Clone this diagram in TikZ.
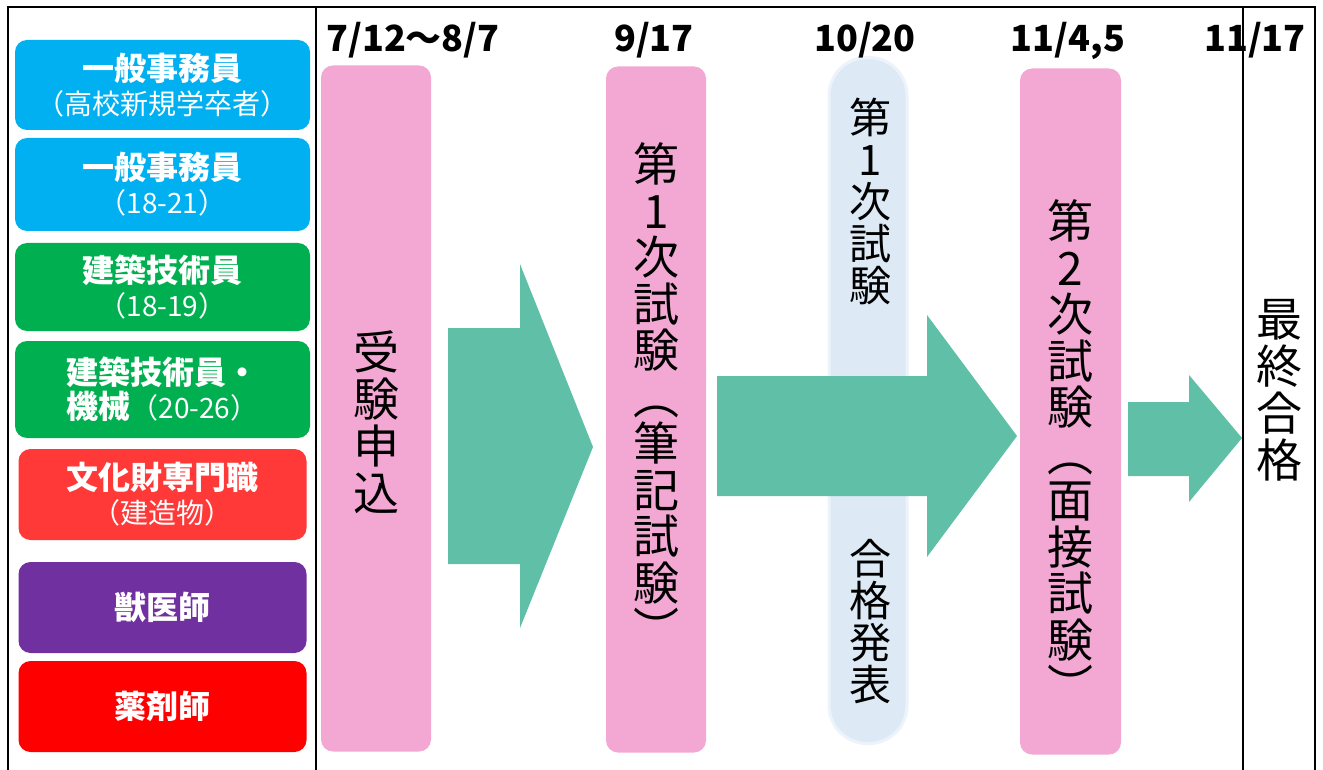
\documentclass[tikz,border=0pt]{standalone}
\usepackage{fontspec}
\setmainfont{Noto Sans CJK JP}
\usetikzlibrary{positioning}
\definecolor{jobblue}{HTML}{00B0F0}
\definecolor{jobgreen}{HTML}{00B050}
\definecolor{jobcoral}{HTML}{FF3838}
\definecolor{jobpurple}{HTML}{7030A0}
\definecolor{jobred}{HTML}{FF0000}
\definecolor{stagepink}{HTML}{F3A8D3}
\definecolor{noticeblue}{HTML}{DDEAF6}
\definecolor{flowgreen}{HTML}{60BFA7}

\tikzset{every picture/.style={line width=2.5pt}}

\begin{document}
\begin{tikzpicture}[x=1pt,y=-1pt,
		jobbox/.style={shape=rectangle, rounded corners=12pt, inner sep=0pt, outer sep=0pt,
			minimum width=295pt, align=center, text=white,
			font=\fontsize{28}{34}\selectfont},
		stagebox/.style={shape=rectangle, rounded corners=12pt, inner sep=0pt,
			fill=stagepink, minimum height=686pt},
		noticebox/.style={shape=rectangle, rounded corners=38pt, inner sep=0pt,
			fill=noticeblue, draw=noticeblue!55, line width=3pt},
		vtext/.style={align=center, inner sep=0pt},
		datelabel/.style={anchor=base, font=\bfseries\fontsize{36}{36}\selectfont},
		flow/.style={fill=flowgreen}
	]
	\useasboundingbox (0,0) rectangle (1323,770);
	\fill[white] (0,0) rectangle (1323,770);

	\node[jobbox, fill=jobblue, minimum height=90pt] (job1) at (162.5,85)
		{{\bfseries\fontsize{32}{34}\selectfont 一般事務員}\\（高校新規学卒者）};
	\node[jobbox, fill=jobblue, minimum height=93pt, below=8pt of job1] (job2)
		{{\bfseries\fontsize{32}{34}\selectfont 一般事務員}\\（18-21）};
	\node[jobbox, fill=jobgreen, minimum height=88pt, below=12pt of job2] (job3)
		{{\bfseries\fontsize{32}{34}\selectfont 建築技術員}\\（18-19）};
	\node[jobbox, fill=jobgreen, minimum height=97pt, below=10pt of job3] (job4)
		{{\bfseries\fontsize{32}{36}\selectfont 建築技術員・}\\{\bfseries\fontsize{32}{34}\selectfont 機械}（20-26）};
	\node[jobbox, fill=jobcoral, minimum width=288pt, minimum height=91pt, below=11pt of job4] (job5)
		{{\bfseries\fontsize{32}{34}\selectfont 文化財専門職}\\（建造物）};
	\node[jobbox, fill=jobpurple, minimum width=288pt, minimum height=91pt, below=22pt of job5] (job6)
		{\bfseries\fontsize{32}{34}\selectfont 獣医師};
	\node[jobbox, fill=jobred, minimum width=288pt, minimum height=91pt, below=8pt of job6] (job7)
		{\bfseries\fontsize{32}{34}\selectfont 薬剤師};

	\node[stagebox, minimum width=110pt] (apply) at (376,408.5) {};
	\node[stagebox, minimum width=100pt] (exam1) at (656,409.5) {};
	\node[noticebox, minimum width=78pt, minimum height=686pt] (notice) at (868,400.5) {};
	\node[stagebox, minimum width=101pt] (exam2) at (1070.5,411.5) {};

	\node[vtext, font=\fontsize{46}{47}\selectfont] (applytext) at (376,422) {受\\験\\申\\込};
	\node[vtext, font=\fontsize{46}{46.5}\selectfont] (exam1text) at (656,395)
		{第\\1\\次\\試\\験\\︵\\筆\\記\\試\\験\\︶};
	\node[vtext, font=\fontsize{42}{42}\selectfont] (noticetop) at (870,201) {第\\1\\次\\試\\験};
	\node[vtext, font=\fontsize{42}{42}\selectfont] (noticebottom) at (870,622) {合\\格\\発\\表};
	\node[vtext, font=\fontsize{46}{46.5}\selectfont] (exam2text) at (1070,452)
		{第\\2\\次\\試\\験\\︵\\面\\接\\試\\験\\︶};
	\node[vtext, font=\fontsize{46}{47}\selectfont] (passtext) at (1279,390) {最\\終\\合\\格};

	\fill[flow] (448,328) -- (520,328) -- (520,264) -- (593,447) -- (520,628) -- (520,564) -- (448,564) -- cycle;
	\fill[flow] (717,376) -- (927,376) -- (927,315) -- (1017,436) -- (927,557) -- (927,496) -- (717,496) -- cycle;
	\fill[flow] (1128,402) -- (1189,402) -- (1189,375) -- (1242,438) -- (1189,502) -- (1189,476) -- (1128,476) -- cycle;

	\node[datelabel] (dateapply) at (413,52) {7/12～8/7};
	\node[datelabel] (dateexam1) at (654,52) {9/17};
	\node[datelabel] (datenotice) at (865,52) {10/20};
	\node[datelabel] (dateexam2) at (1068,52) {11/4,5};
	\node[datelabel] (datepass) at (1255,52) {11/17};

	\draw (8,770) -- (8,7) -- (1315,7) -- (1315,770);
	\draw (316,7) -- (316,770);
	\draw (1243,7) -- (1243,770);
\end{tikzpicture}
\end{document}
